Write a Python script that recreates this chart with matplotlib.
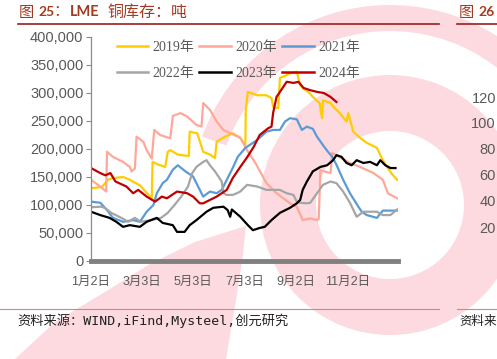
import matplotlib
matplotlib.use("Agg")
import matplotlib.pyplot as plt
from matplotlib.patches import Wedge, Polygon
from matplotlib.lines import Line2D
from matplotlib.ticker import FuncFormatter

W, H = 497, 359

# ---- data (x = days since Jan 2, values in thousand tonnes) ----
x19 = [0,13,20,26,38,46,58,72,73,80,88,91,94,103,113,116,117,126,133,141,147,149,159,168,177,183,183.5,186,197,208,
       214,216,222,224,232,236,244,248,251,259,263,271,274,275,284,287,295,303,305,311,319,327,339,346,351,357,363]
y19 = [130,132,145,148,150,145,135,112,177,172,168,195,198,190,188,188,231,228,195,190,184,213,222,228,220,207,270,302,296,296,
       291,275,273,327,332,335,338,314,309,300,293,282,255,287,282,276,264,249,264,231,220,211,202,180,168,155,145]
x20 = [0,11,18,19,26,38,46,48,52,54,62,66,72,75,82,94,97,106,114,125,131,133,141,149,157,177,185,195,208,220,
       236,244,251,260,268,270,272,284,286,291,307,319,335,346,352,363]
y20 = [145,133,124,195,186,177,168,160,165,222,213,198,183,234,225,219,259,264,258,243,240,282,270,249,234,220,198,175,139,121,
       103,97,73,76,73,75,162,157,193,189,175,168,157,145,121,112]
x21 = [0,11,19,26,38,50,58,66,74,78,85,90,97,103,112,121,125,133,141,149,155,168,174,183,197,208,216,224,230,236,
       244,250,256,263,268,275,281,286,291,299,307,317,321,327,339,346,363]
y21 = [106,104,91,77,70,73,70,88,100,121,139,145,163,171,160,151,139,115,124,121,127,166,186,202,216,231,234,234,249,255,
       253,234,240,236,222,207,195,186,172,145,121,97,88,82,77,90,90]
x22 = [0,12,16,24,36,44,52,59,71,83,91,99,107,115,120,125,133,137,141,147,155,157,161,168,173,177,185,197,208,224,
       232,240,244,248,256,260,268,275,284,291,299,307,315,323,339,346,355,363]
y22 = [96,97,95,86,77,70,77,70,73,77,86,100,115,133,157,168,177,180,171,160,142,121,118,118,121,124,136,133,127,127,
       121,118,106,104,103,104,121,136,142,139,124,104,79,88,88,82,82,92]
x23 = [0,11,22,30,38,46,58,66,78,85,97,102,111,117,125,137,145,157,162,165,167,177,186,192,200,206,214,224,236,244,
       248,251,256,263,272,280,287,291,297,303,309,315,323,331,339,343,349,355,361]
y23 = [88,82,77,70,61,64,61,70,77,68,64,52,52,64,73,88,95,97,91,79,92,79,64,55,59,61,73,86,95,103,
       109,127,142,160,168,171,180,189,186,175,171,180,175,177,171,180,171,166,166]
x24 = [0,11,17,23,29,42,50,56,66,76,84,90,102,114,121,129,133,141,149,161,168,177,185,193,200,210,214,216,220,228,
       232,240,246,252,260,268,276,284,291]
y24 = [166,157,153,157,142,133,121,127,115,106,115,112,124,121,115,103,103,109,115,127,148,168,185,204,225,237,240,265,293,311,
       320,318,320,309,305,302,300,293,284]

series_names = ["2019年", "2020年", "2021年", "2022年", "2023年", "2024年"]
series_x = [x19, x20, x21, x22, x23, x24]
series_y = [y19, y20, y21, y22, y23, y24]
colors = ["#FFCC00", "#FFA899", "#5B9BD5", "#A5A5A5", "#000000", "#C00000"]

tick_days = [0, 60, 121, 182, 243, 304]
tick_labels = ["1月2日", "3月3日", "5月3日", "7月3日", "9月2日", "11月2日"]
yticks = list(range(0, 400001, 50000))

right_labels = ["120", "100", "80", "60", "40", "20"]
right_label_y = [99, 124, 150, 176, 202, 229]

title_col = "#A33B22"
gray_txt = "#595959"

fig = plt.figure(figsize=(W/100, H/100), dpi=100)

def fx(x): return x / W
def fy(y): return 1 - y / H

# ---- watermark (approximate) ----
bg = fig.add_axes([0, 0, 1, 1], zorder=-5)
bg.set_xlim(0, W); bg.set_ylim(H, 0); bg.axis("off")
pink = "#FCDADF"
bg.add_patch(Wedge((390, 205), 130, 0, 360, width=56, color=pink, lw=0))
bg.add_patch(Wedge((390, 205), 200, 200, 330, width=26, color=pink, lw=0))
bg.add_patch(Polygon([(246, 226), (243, 255), (236, 300), (226, 359), (15, 359), (55, 322),
                      (105, 292), (150, 264), (195, 242)], closed=True, color=pink, lw=0))

# ---- main axes ----
ax = fig.add_axes([fx(91), fy(261), (398 - 91) / W, (261 - 37) / H])
ax.set_facecolor("none")
for xs, ys, c in zip(series_x, series_y, colors):
    ax.plot(xs, [v * 1000 for v in ys], color=c, lw=1.6, solid_joinstyle="round")

ax.set_xlim(0, 364)
ax.set_ylim(0, 400000)
ax.set_yticks(yticks)
ax.yaxis.set_major_formatter(FuncFormatter(lambda v, p: f"{int(v):,}"))
ax.set_xticks(tick_days)
ax.set_xticklabels(tick_labels)
for s in ["top", "right"]:
    ax.spines[s].set_visible(False)
ax.spines["left"].set_color("#8C8C8C")
ax.spines["left"].set_linewidth(0.9)
ax.spines["bottom"].set_color("#808080")
ax.spines["bottom"].set_linewidth(3.5)
ax.tick_params(axis="y", length=3.5, width=0.8, color="#8C8C8C", pad=2,
               labelsize=10.5, labelcolor=gray_txt)
ax.tick_params(axis="x", length=0, pad=11, labelsize=9, labelcolor=gray_txt)
for lab in ax.get_yticklabels():
    lab.set_family(["Liberation Sans", "DejaVu Sans"])
for lab in ax.get_xticklabels():
    lab.set_family(["Liberation Sans", "Noto Sans CJK SC"])

# legend rows: 2019 2020 2021 / 2022 2023 2024 (matplotlib fills column-wise)
order = [0, 3, 1, 4, 2, 5]
handles = [Line2D([], [], color=colors[i], lw=1.8) for i in order]
labels = [series_names[i] for i in order]
leg = ax.legend(handles, labels, ncol=3, loc="upper left",
                bbox_to_anchor=(fx(116.5), fy(41)), bbox_transform=fig.transFigure,
                frameon=False, borderpad=0, borderaxespad=0, handlelength=2.3,
                handletextpad=0.3, columnspacing=0.35, labelspacing=0.9,
                prop={"family": ["Liberation Serif", "Noto Sans CJK SC"], "size": 10})
for t in leg.get_texts():
    t.set_color(gray_txt)

# ---- title, rules, source ----
cjk = ["Noto Sans CJK SC", "DejaVu Sans"]
lato = ["Lato", "DejaVu Sans"]
fig.text(fx(19), fy(12), "图", family=cjk, fontsize=11, color=title_col, va="center")
fig.text(fx(38), fy(12), "25", family=lato, fontweight="bold", fontsize=10, color=title_col, va="center")
fig.text(fx(53), fy(12), "：", family=cjk, fontsize=11, color=title_col, va="center")
fig.text(fx(70), fy(12), "LME", family=lato, fontweight="bold", fontsize=10.5, color=title_col, va="center")
fig.text(fx(107), fy(12), "铜库存：吨", family=cjk, fontsize=11.5, color=title_col, va="center")
fig.text(fx(459), fy(12), "图", family=cjk, fontsize=11, color=title_col, va="center")
fig.text(fx(478), fy(12), "26", family=lato, fontweight="bold", fontsize=10, color=title_col, va="center")

fig.add_artist(Line2D([fx(18), fx(439)], [fy(24), fy(24)], color="#9B1E1E", lw=1.2))
fig.add_artist(Line2D([fx(457), 1], [fy(24), fy(24)], color="#9B1E1E", lw=1.2))
fig.add_artist(Line2D([0, fx(439)], [fy(309), fy(309)], color="#C98A84", lw=0.8))
fig.add_artist(Line2D([fx(457), 1], [fy(309), fy(309)], color="#C98A84", lw=0.8))

mono = ["DejaVu Sans Mono", "Noto Sans CJK SC"]
fig.text(fx(17), fy(321), "资料来源：WIND,iFind,Mysteel,创元研究", family=mono, fontsize=9.5, color="#222222", va="center")
fig.text(fx(459), fy(321), "资料来", family=mono, fontsize=9, color="#222222", va="center")

for lab, yy in zip(right_labels, right_label_y):
    fig.text(fx(496), fy(yy), lab, family=["Liberation Sans"], fontsize=10.5, color=gray_txt, va="center", ha="right")

fig.savefig("out.png", dpi=100)
